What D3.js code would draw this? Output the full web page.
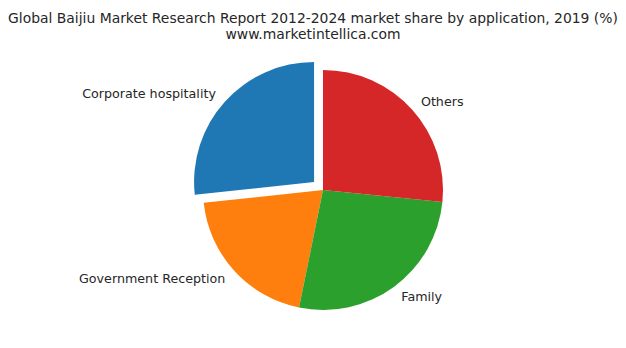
<!DOCTYPE html>
<html>
<head>
<meta charset="utf-8">
<script src="https://cdn.jsdelivr.net/npm/d3@7"></script>
<style>
  body { margin: 0; background: #fff; }
  text { font-family: "DejaVu Sans", sans-serif; fill: #262626; }
</style>
</head>
<body>
<div id="chart"></div>
<script>
var categories = ["Corporate hospitality", "Government Reception", "Family", "Others"];
var shares = [26.7, 20.1, 26.6, 26.6];
var explode = [0.1, 0, 0, 0];
var colors = ["#1f77b4", "#ff7f0e", "#2ca02c", "#d62728"];
var titleLines = ["Global Baijiu Market Research Report 2012-2024 market share by application, 2019 (%)", "www.marketintellica.com"];

var width = 626, height = 348;
var cx = 323, cy = 190, radius = 120;

var svg = d3.select("#chart").append("svg")
    .attr("width", width)
    .attr("height", height);

svg.selectAll("text.title")
    .data(titleLines)
    .enter().append("text")
    .attr("class", "title")
    .attr("x", 313)
    .attr("y", function(d, i) { return 19 + i * 16; })
    .attr("text-anchor", "middle")
    .attr("dominant-baseline", "middle")
    .attr("font-size", 13.9)
    .text(function(d) { return d; });

// counter-clockwise from 12 o'clock, like matplotlib startangle=90
var pie = d3.pie().sort(null).startAngle(0).endAngle(-2 * Math.PI);
var arcs = pie(shares);
var arc = d3.arc().innerRadius(0).outerRadius(radius);

var g = svg.append("g").attr("transform", "translate(" + cx + "," + cy + ")");

arcs.forEach(function(a, i) {
    var mid = (a.startAngle + a.endAngle) / 2;
    var off = explode[i] * radius;
    var dx = Math.sin(mid) * off, dy = -Math.cos(mid) * off;

    g.append("path")
        .attr("d", arc(a))
        .attr("transform", "translate(" + dx + "," + dy + ")")
        .attr("fill", colors[i]);

    var lx = dx + Math.sin(mid) * radius * 1.1;
    var ly = dy - Math.cos(mid) * radius * 1.1 + 1;
    g.append("text")
        .attr("x", lx)
        .attr("y", ly)
        .attr("text-anchor", lx > 0 ? "start" : "end")
        .attr("dominant-baseline", "middle")
        .attr("font-size", 12.7)
        .text(categories[i]);
});
</script>
</body>
</html>
